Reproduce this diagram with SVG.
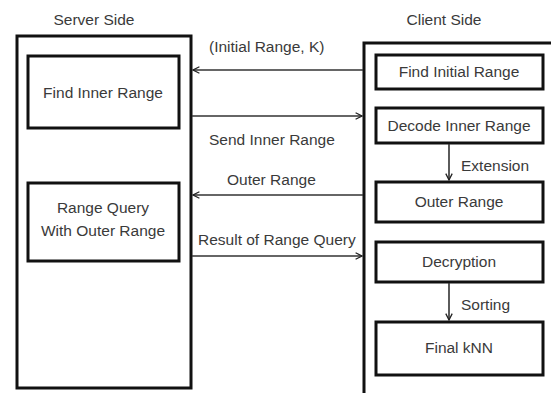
<svg xmlns="http://www.w3.org/2000/svg" width="551" height="393" viewBox="0 0 551 393">
  <defs>
    <marker id="chev" viewBox="0 0 10 10" refX="9" refY="5" markerWidth="8" markerHeight="8" markerUnits="userSpaceOnUse" orient="auto">
      <path d="M1,1 L9,5 L1,9" fill="none" stroke="#222" stroke-width="1.6"/>
    </marker>
  </defs>
  <style>
    .frame { fill: none; stroke: #111; stroke-width: 3; }
    .box { fill: #fff; stroke: #111; stroke-width: 3; }
    .lbl { font-family: "Liberation Sans", Arial, sans-serif; font-size: 15.5px; fill: #3a3a3a; text-anchor: middle; }
    .note { font-family: "Liberation Sans", Arial, sans-serif; font-size: 15.5px; fill: #3a3a3a; }
    .link { fill: none; stroke: #333; stroke-width: 1.6; marker-end: url(#chev); }
  </style>
  <rect width="551" height="393" fill="#fff"/>

  <!-- column titles -->
  <text class="lbl" x="94" y="25">Server Side</text>
  <text class="lbl" x="444" y="25">Client Side</text>

  <!-- server side -->
  <g id="server">
    <rect class="frame" x="17" y="36" width="174" height="352"/>
  </g>
  <g id="find-inner-range">
    <rect class="box" x="28" y="56" width="151" height="72"/>
    <text class="lbl" x="103" y="98">Find Inner Range</text>
  </g>
  <g id="range-query">
    <rect class="box" x="28" y="183" width="151" height="78"/>
    <text class="lbl" x="103" y="213">Range Query</text>
    <text class="lbl" x="103" y="236">With Outer Range</text>
  </g>

  <!-- client side -->
  <g id="client">
    <rect class="frame" x="364" y="43" width="200" height="360"/>
  </g>
  <g id="find-initial-range">
    <rect class="box" x="376" y="55" width="167" height="34"/>
    <text class="lbl" x="459" y="77">Find Initial Range</text>
  </g>
  <g id="decode-inner-range">
    <rect class="box" x="376" y="108" width="167" height="35"/>
    <text class="lbl" x="459" y="131">Decode Inner Range</text>
  </g>
  <g id="outer-range">
    <rect class="box" x="376" y="182" width="167" height="40"/>
    <text class="lbl" x="459" y="207">Outer Range</text>
  </g>
  <g id="decryption">
    <rect class="box" x="376" y="242" width="167" height="40"/>
    <text class="lbl" x="459" y="267">Decryption</text>
  </g>
  <g id="final-knn">
    <rect class="box" x="376" y="322" width="167" height="53"/>
    <text class="lbl" x="459" y="353">Final kNN</text>
  </g>

  <!-- connectors -->
  <g id="connectors">
    <path class="link" d="M363,70 L193,70"/>
    <text class="note" x="209" y="52">(Initial Range, K)</text>
    <path class="link" d="M192,116 L362,116"/>
    <text class="note" x="209" y="145">Send Inner Range</text>
    <path class="link" d="M363,195 L193,195"/>
    <text class="note" x="227" y="185">Outer Range</text>
    <path class="link" d="M192,256 L362,256"/>
    <text class="note" x="198" y="245">Result of Range Query</text>
    <path class="link" d="M449,144 L449,180"/>
    <text class="note" x="461" y="171">Extension</text>
    <path class="link" d="M449,283 L449,320"/>
    <text class="note" x="461" y="310">Sorting</text>
  </g>
</svg>
